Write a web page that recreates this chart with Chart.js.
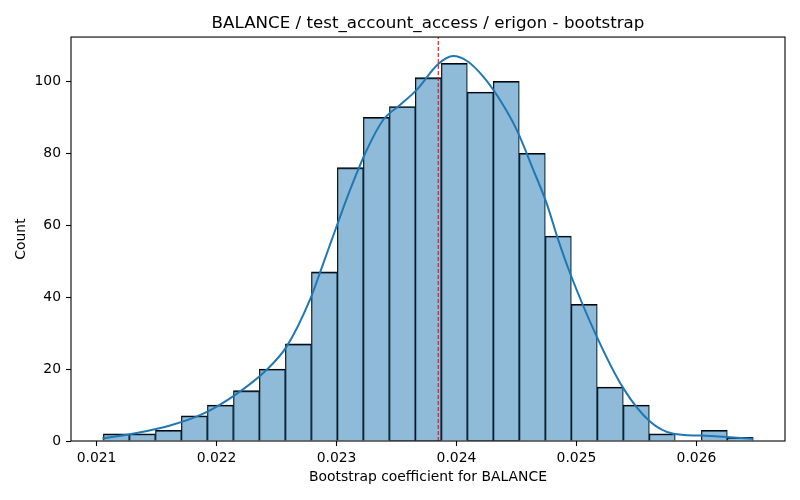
<!DOCTYPE html>
<html>
<head>
<meta charset="utf-8">
<script src="https://cdn.jsdelivr.net/npm/chart.js@4"></script>
<style>
  html, body { margin: 0; padding: 0; background: #fff; }
  canvas { display: block; }
</style>
</head>
<body>
<canvas id="myChart" width="800" height="500"></canvas>
<script>
// histogram bins (centre of each bin) and counts
const binCenters = [0.021165, 0.021382, 0.021599, 0.021815, 0.022032, 0.022249, 0.022465, 0.022682,
  0.022899, 0.023115, 0.023332, 0.023549, 0.023765, 0.023982, 0.024199, 0.024415, 0.024632,
  0.024849, 0.025065, 0.025282, 0.025499, 0.025715, 0.025932, 0.026149, 0.026365];
const counts = [2, 2, 3, 7, 10, 14, 20, 27, 47, 76, 90, 93, 101, 105, 97, 100, 80, 57, 38, 15, 10, 2, 0, 3, 1];

// kde curve
const kdeX = [0.021048, 0.021335, 0.021613, 0.021890, 0.022168, 0.022418, 0.022585, 0.022779, 0.022890,
  0.022960, 0.023113, 0.023252, 0.023390, 0.023529, 0.023668, 0.023848, 0.023973, 0.024085, 0.024223,
  0.024363, 0.024502, 0.024640, 0.024752, 0.024848, 0.024946, 0.025168, 0.025390, 0.025613, 0.025807,
  0.026029, 0.026252, 0.026473];
const kdeY = [0.7, 2.2, 4.3, 7.6, 13.1, 19.8, 26.3, 39.3, 49.4, 55.9, 69.8, 80.9, 89.3, 93.4, 97.6, 104.8,
  107, 105.7, 101.3, 94.8, 86.5, 75.4, 66, 55.9, 46.7, 29.1, 14.7, 5.4, 2.0, 1.5, 1.1, 0.6];

// red dashed marker
const markerX = 0.023848;

const xMin = 0.020787, xMax = 0.026738;
const yMin = 0, yMax = 112.3;
const xTickStep = 0.001, yTickStep = 20;

const titleText = 'BALANCE / test_account_access / erigon - bootstrap';
const xLabel = 'Bootstrap coefficient for BALANCE';
const yLabel = 'Count';

const FONT = 'DejaVu Sans';

// matplotlib style box round the axes, title centred over the axes
const framePlugin = {
    id: 'frame',
    afterLayout(chart) {
        const t = chart.titleBlock;
        if (t) {
            t.left = chart.chartArea.left;
            t.right = chart.chartArea.right;
            t.width = t.right - t.left;
        }
    },
    afterDatasetsDraw(chart) {
        const a = chart.chartArea;
        const ctx = chart.ctx;
        ctx.save();
        ctx.strokeStyle = '#000';
        ctx.lineWidth = 1.1;
        ctx.strokeRect(a.left, a.top, a.right - a.left, a.bottom - a.top);
        ctx.restore();
    }
};

const ctx = document.getElementById('myChart');

const config = {
    type: 'bar',
    data: {
        datasets: [{
            type: 'line',
            label: 'kde',
            data: kdeX.map((x, i) => ({x: x, y: kdeY[i]})),
            borderColor: '#1f77b4',
            borderWidth: 2,
            pointRadius: 0,
            cubicInterpolationMode: 'monotone',
            fill: false,
            order: 1
        },
        {
            type: 'line',
            label: 'marker',
            data: [{x: markerX, y: yMin}, {x: markerX, y: yMax}],
            borderColor: '#ff0000',
            borderWidth: 1.1,
            borderDash: [4, 2],
            pointRadius: 0,
            fill: false,
            order: 0
        },
        {
            label: 'Count',
            data: binCenters.map((x, i) => ({x: x, y: counts[i]})),
            backgroundColor: 'rgba(31, 119, 180, 0.5)',
            borderColor: '#000',
            borderWidth: { top: 1.2, left: 0.65, right: 0.65, bottom: 0 },
            borderSkipped: false,
            categoryPercentage: 1,
            barPercentage: 1,
            order: 2
        }]
    },
    options: {
        responsive: false,
        animation: false,
        devicePixelRatio: 1,
        layout: { padding: { left: 0, right: 15, top: 0, bottom: 0 } },
        plugins: {
            legend: { display: false },
            tooltip: { enabled: false },
            title: {
                display: true,
                text: titleText,
                color: '#000',
                font: { family: FONT, size: 16.7, weight: 'normal' },
                padding: { top: 14, bottom: 3 }
            }
        },
        scales: {
            x: {
                type: 'linear',
                min: xMin,
                max: xMax,
                offset: false,
                afterFit: (scale) => { scale.height = 59; },
                border: { display: false },
                grid: { offset: false, drawOnChartArea: false, drawTicks: true, tickLength: 5, tickColor: '#000', tickWidth: 1.1 },
                ticks: {
                    stepSize: xTickStep,
                    includeBounds: false,
                    autoSkip: false,
                    color: '#000',
                    padding: 4,
                    maxRotation: 0,
                    font: { family: FONT, size: 13.9 },
                    callback: (v) => v.toFixed(3)
                },
                title: {
                    display: true,
                    text: xLabel,
                    color: '#000',
                    font: { family: FONT, size: 13.9 },
                    padding: { top: 0, bottom: 14 }
                }
            },
            y: {
                min: yMin,
                max: yMax,
                afterFit: (scale) => { scale.width = 71; },
                border: { display: false },
                grid: { drawOnChartArea: false, drawTicks: true, tickLength: 5, tickColor: '#000', tickWidth: 1.1 },
                ticks: {
                    stepSize: yTickStep,
                    includeBounds: false,
                    color: '#000',
                    padding: 5,
                    font: { family: FONT, size: 13.9 }
                },
                title: {
                    display: true,
                    text: yLabel,
                    color: '#000',
                    font: { family: FONT, size: 13.9 },
                    padding: { top: 13, bottom: 0 }
                }
            }
        }
    },
    plugins: [framePlugin]
};

const chart = new Chart(ctx, config);
</script>
</body>
</html>
